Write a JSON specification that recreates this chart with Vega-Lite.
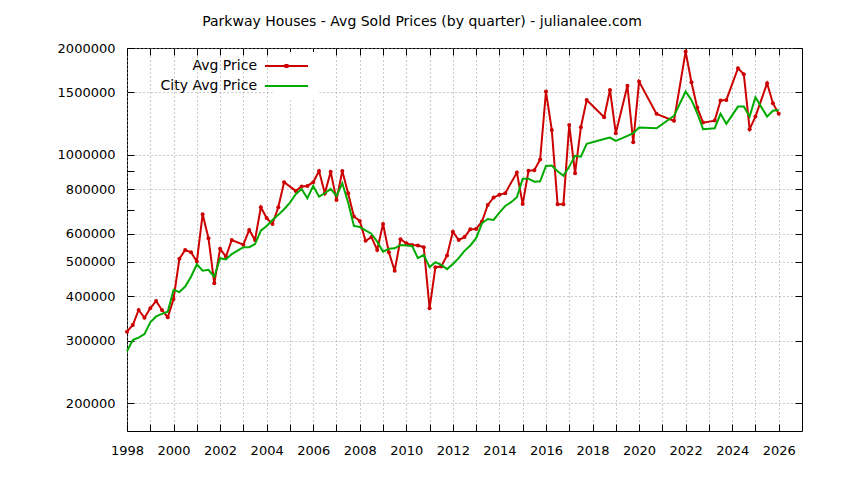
{
  "$schema": "https://vega.github.io/schema/vega-lite/v6.json",
  "width": 675,
  "height": 383,
  "autosize": {"type": "none"},
  "padding": {"left": 127, "top": 48, "right": 42, "bottom": 49},
  "background": "white",
  "title": {
    "text": "Parkway Houses - Avg Sold Prices (by quarter) - julianalee.com",
    "font": "DejaVu Sans", "fontSize": 14, "fontWeight": "normal", "color": "#000000",
    "anchor": "middle", "frame": "group", "dx": -42.5, "offset": 2, "baseline": "alphabetic"
  },
  "config": {
    "view": {"stroke": "#000000", "strokeWidth": 1},
    "font": "DejaVu Sans",
    "legend": {
      "orient": "none", "legendX": 145.5, "legendY": 4, "title": null,
      "symbolType": "M-4.3,0H4.3", "symbolSize": 100, "symbolStrokeWidth": 2,
      "labelAlign": "right", "labelOffset": -36.5, "labelFontSize": 14, "labelFont": "DejaVu Sans",
      "labelColor": "#000000", "rowPadding": 6, "padding": 7, "fillColor": "white", "strokeColor": null
    }
  },
  "data": {"values": [
    {"s":"Avg Price","t":1998.00,"v":318000},{"s":"Avg Price","t":1998.25,"v":332000},{"s":"Avg Price","t":1998.50,"v":366000},{"s":"Avg Price","t":1998.75,"v":348000},
    {"s":"Avg Price","t":1999.00,"v":370000},{"s":"Avg Price","t":1999.25,"v":388000},{"s":"Avg Price","t":1999.50,"v":366000},{"s":"Avg Price","t":1999.75,"v":349000},
    {"s":"Avg Price","t":2000.00,"v":393000},{"s":"Avg Price","t":2000.25,"v":510000},{"s":"Avg Price","t":2000.50,"v":540000},{"s":"Avg Price","t":2000.75,"v":532000},
    {"s":"Avg Price","t":2001.00,"v":501000},{"s":"Avg Price","t":2001.25,"v":681000},{"s":"Avg Price","t":2001.50,"v":583000},{"s":"Avg Price","t":2001.75,"v":435000},
    {"s":"Avg Price","t":2002.00,"v":544000},{"s":"Avg Price","t":2002.25,"v":517000},{"s":"Avg Price","t":2002.50,"v":576000},
    {"s":"Avg Price","t":2003.00,"v":559000},{"s":"Avg Price","t":2003.25,"v":615000},{"s":"Avg Price","t":2003.50,"v":576000},{"s":"Avg Price","t":2003.75,"v":712000},
    {"s":"Avg Price","t":2004.00,"v":664000},{"s":"Avg Price","t":2004.25,"v":639000},{"s":"Avg Price","t":2004.50,"v":712000},{"s":"Avg Price","t":2004.75,"v":838000},
    {"s":"Avg Price","t":2005.25,"v":792000},{"s":"Avg Price","t":2005.50,"v":815000},{"s":"Avg Price","t":2005.75,"v":818000},
    {"s":"Avg Price","t":2006.00,"v":838000},{"s":"Avg Price","t":2006.25,"v":901000},{"s":"Avg Price","t":2006.50,"v":780000},{"s":"Avg Price","t":2006.75,"v":897000},
    {"s":"Avg Price","t":2007.00,"v":747000},{"s":"Avg Price","t":2007.25,"v":901000},{"s":"Avg Price","t":2007.50,"v":780000},{"s":"Avg Price","t":2007.75,"v":671000},
    {"s":"Avg Price","t":2008.00,"v":652000},{"s":"Avg Price","t":2008.25,"v":573000},{"s":"Avg Price","t":2008.50,"v":587000},{"s":"Avg Price","t":2008.75,"v":540000},
    {"s":"Avg Price","t":2009.00,"v":639000},{"s":"Avg Price","t":2009.25,"v":532000},{"s":"Avg Price","t":2009.50,"v":472000},{"s":"Avg Price","t":2009.75,"v":579000},
    {"s":"Avg Price","t":2010.00,"v":564000},{"s":"Avg Price","t":2010.25,"v":558000},{"s":"Avg Price","t":2010.50,"v":556000},{"s":"Avg Price","t":2010.75,"v":550000},
    {"s":"Avg Price","t":2011.00,"v":370000},{"s":"Avg Price","t":2011.25,"v":483000},{"s":"Avg Price","t":2011.50,"v":485000},{"s":"Avg Price","t":2011.75,"v":521000},
    {"s":"Avg Price","t":2012.00,"v":608000},{"s":"Avg Price","t":2012.25,"v":576000},{"s":"Avg Price","t":2012.50,"v":587000},{"s":"Avg Price","t":2012.75,"v":618000},
    {"s":"Avg Price","t":2013.00,"v":619000},{"s":"Avg Price","t":2013.25,"v":649000},{"s":"Avg Price","t":2013.50,"v":723000},{"s":"Avg Price","t":2013.75,"v":759000},
    {"s":"Avg Price","t":2014.00,"v":772000},{"s":"Avg Price","t":2014.25,"v":780000},{"s":"Avg Price","t":2014.75,"v":892000},
    {"s":"Avg Price","t":2015.00,"v":727000},{"s":"Avg Price","t":2015.25,"v":902000},{"s":"Avg Price","t":2015.50,"v":906000},{"s":"Avg Price","t":2015.75,"v":971000},
    {"s":"Avg Price","t":2016.00,"v":1508000},{"s":"Avg Price","t":2016.25,"v":1176000},{"s":"Avg Price","t":2016.50,"v":726000},{"s":"Avg Price","t":2016.75,"v":726000},
    {"s":"Avg Price","t":2017.00,"v":1215000},{"s":"Avg Price","t":2017.25,"v":888000},{"s":"Avg Price","t":2017.50,"v":1197000},{"s":"Avg Price","t":2017.75,"v":1428000},
    {"s":"Avg Price","t":2018.50,"v":1277000},{"s":"Avg Price","t":2018.75,"v":1524000},
    {"s":"Avg Price","t":2019.00,"v":1151000},{"s":"Avg Price","t":2019.50,"v":1565000},{"s":"Avg Price","t":2019.75,"v":1086000},
    {"s":"Avg Price","t":2020.00,"v":1609000},{"s":"Avg Price","t":2020.75,"v":1305000},
    {"s":"Avg Price","t":2021.50,"v":1247000},
    {"s":"Avg Price","t":2022.00,"v":1954000},{"s":"Avg Price","t":2022.25,"v":1602000},{"s":"Avg Price","t":2022.50,"v":1359000},{"s":"Avg Price","t":2022.75,"v":1233000},
    {"s":"Avg Price","t":2023.25,"v":1249000},{"s":"Avg Price","t":2023.50,"v":1422000},{"s":"Avg Price","t":2023.75,"v":1428000},
    {"s":"Avg Price","t":2024.25,"v":1754000},{"s":"Avg Price","t":2024.50,"v":1687000},{"s":"Avg Price","t":2024.75,"v":1182000},
    {"s":"Avg Price","t":2025.00,"v":1282000},{"s":"Avg Price","t":2025.50,"v":1591000},{"s":"Avg Price","t":2025.75,"v":1398000},
    {"s":"Avg Price","t":2026.00,"v":1305000},

    {"s":"City Avg Price","t":1998.00,"v":280000},{"s":"City Avg Price","t":1998.25,"v":301000},{"s":"City Avg Price","t":1998.50,"v":306000},{"s":"City Avg Price","t":1998.75,"v":313000},
    {"s":"City Avg Price","t":1999.00,"v":338000},{"s":"City Avg Price","t":1999.25,"v":351000},{"s":"City Avg Price","t":1999.50,"v":357000},{"s":"City Avg Price","t":1999.75,"v":362000},
    {"s":"City Avg Price","t":2000.00,"v":417000},{"s":"City Avg Price","t":2000.25,"v":411000},{"s":"City Avg Price","t":2000.50,"v":426000},{"s":"City Avg Price","t":2000.75,"v":454000},
    {"s":"City Avg Price","t":2001.00,"v":492000},{"s":"City Avg Price","t":2001.25,"v":472000},{"s":"City Avg Price","t":2001.50,"v":475000},{"s":"City Avg Price","t":2001.75,"v":454000},
    {"s":"City Avg Price","t":2002.00,"v":512000},{"s":"City Avg Price","t":2002.25,"v":508000},{"s":"City Avg Price","t":2002.50,"v":526000},{"s":"City Avg Price","t":2002.75,"v":538000},
    {"s":"City Avg Price","t":2003.00,"v":550000},{"s":"City Avg Price","t":2003.25,"v":550000},{"s":"City Avg Price","t":2003.50,"v":561000},{"s":"City Avg Price","t":2003.75,"v":612000},
    {"s":"City Avg Price","t":2004.00,"v":631000},{"s":"City Avg Price","t":2004.25,"v":656000},{"s":"City Avg Price","t":2004.50,"v":678000},{"s":"City Avg Price","t":2004.75,"v":703000},
    {"s":"City Avg Price","t":2005.00,"v":734000},{"s":"City Avg Price","t":2005.25,"v":775000},{"s":"City Avg Price","t":2005.50,"v":802000},{"s":"City Avg Price","t":2005.75,"v":755000},
    {"s":"City Avg Price","t":2006.00,"v":818000},{"s":"City Avg Price","t":2006.25,"v":763000},{"s":"City Avg Price","t":2006.50,"v":780000},{"s":"City Avg Price","t":2006.75,"v":802000},
    {"s":"City Avg Price","t":2007.00,"v":767000},{"s":"City Avg Price","t":2007.25,"v":832000},{"s":"City Avg Price","t":2007.50,"v":735000},{"s":"City Avg Price","t":2007.75,"v":631000},
    {"s":"City Avg Price","t":2008.00,"v":627000},{"s":"City Avg Price","t":2008.25,"v":613000},{"s":"City Avg Price","t":2008.50,"v":600000},{"s":"City Avg Price","t":2008.75,"v":570000},
    {"s":"City Avg Price","t":2009.00,"v":534000},{"s":"City Avg Price","t":2009.25,"v":544000},{"s":"City Avg Price","t":2009.50,"v":546000},{"s":"City Avg Price","t":2009.75,"v":558000},
    {"s":"City Avg Price","t":2010.00,"v":556000},{"s":"City Avg Price","t":2010.25,"v":554000},{"s":"City Avg Price","t":2010.50,"v":512000},{"s":"City Avg Price","t":2010.75,"v":523000},
    {"s":"City Avg Price","t":2011.00,"v":483000},{"s":"City Avg Price","t":2011.25,"v":499000},{"s":"City Avg Price","t":2011.50,"v":490000},{"s":"City Avg Price","t":2011.75,"v":477000},
    {"s":"City Avg Price","t":2012.00,"v":493000},{"s":"City Avg Price","t":2012.25,"v":512000},{"s":"City Avg Price","t":2012.50,"v":537000},{"s":"City Avg Price","t":2012.75,"v":556000},
    {"s":"City Avg Price","t":2013.00,"v":583000},{"s":"City Avg Price","t":2013.25,"v":642000},{"s":"City Avg Price","t":2013.50,"v":660000},{"s":"City Avg Price","t":2013.75,"v":656000},
    {"s":"City Avg Price","t":2014.00,"v":688000},{"s":"City Avg Price","t":2014.25,"v":718000},{"s":"City Avg Price","t":2014.50,"v":736000},{"s":"City Avg Price","t":2014.75,"v":760000},
    {"s":"City Avg Price","t":2015.00,"v":857000},{"s":"City Avg Price","t":2015.25,"v":857000},{"s":"City Avg Price","t":2015.50,"v":841000},{"s":"City Avg Price","t":2015.75,"v":843000},
    {"s":"City Avg Price","t":2016.00,"v":931000},{"s":"City Avg Price","t":2016.25,"v":933000},{"s":"City Avg Price","t":2016.50,"v":900000},{"s":"City Avg Price","t":2016.75,"v":873000},
    {"s":"City Avg Price","t":2017.00,"v":927000},{"s":"City Avg Price","t":2017.25,"v":994000},{"s":"City Avg Price","t":2017.50,"v":989000},{"s":"City Avg Price","t":2017.75,"v":1074000},
    {"s":"City Avg Price","t":2018.50,"v":1109000},{"s":"City Avg Price","t":2018.75,"v":1119000},
    {"s":"City Avg Price","t":2019.00,"v":1095000},{"s":"City Avg Price","t":2019.50,"v":1131000},{"s":"City Avg Price","t":2019.75,"v":1151000},
    {"s":"City Avg Price","t":2020.00,"v":1194000},{"s":"City Avg Price","t":2020.75,"v":1189000},
    {"s":"City Avg Price","t":2021.50,"v":1288000},
    {"s":"City Avg Price","t":2022.00,"v":1508000},{"s":"City Avg Price","t":2022.25,"v":1428000},{"s":"City Avg Price","t":2022.50,"v":1310000},{"s":"City Avg Price","t":2022.75,"v":1182000},
    {"s":"City Avg Price","t":2023.25,"v":1189000},{"s":"City Avg Price","t":2023.50,"v":1305000},{"s":"City Avg Price","t":2023.75,"v":1223000},
    {"s":"City Avg Price","t":2024.25,"v":1368000},{"s":"City Avg Price","t":2024.50,"v":1368000},{"s":"City Avg Price","t":2024.75,"v":1282000},
    {"s":"City Avg Price","t":2025.00,"v":1453000},{"s":"City Avg Price","t":2025.50,"v":1282000},{"s":"City Avg Price","t":2025.75,"v":1332000},
    {"s":"City Avg Price","t":2026.00,"v":1339000}
  ]},
  "layer": [
    {
      "transform": [{"filter": "datum.s === 'Avg Price'"}],
      "mark": {"type": "line", "strokeWidth": 2},
      "encoding": {
        "x": {"field": "t", "type": "quantitative",
          "scale": {"domain": [1998, 2027], "nice": false, "zero": false},
          "axis": {"orient": "bottom", "title": null, "values": [1998,1999,2000,2001,2002,2003,2004,2005,2006,2007,2008,2009,2010,2011,2012,2013,2014,2015,2016,2017,2018,2019,2020,2021,2022,2023,2024,2025,2026],
            "format": "d", "labelExpr": "datum.value % 2 === 0 ? datum.label : ''",
            "grid": true, "gridColor": "#999999", "gridDash": [1, 3], "gridWidth": 1,
            "domain": false, "ticks": true, "tickSize": -7, "tickColor": "#000000", "tickWidth": 1,
            "labelFont": "DejaVu Sans", "labelFontSize": 13, "labelColor": "#000000", "labelPadding": 20, "labelFlush": false, "labelOverlap": false}},
        "y": {"field": "v", "type": "quantitative",
          "scale": {"type": "log", "domain": [167000, 2000000], "nice": false, "zero": false},
          "axis": {"orient": "left", "title": null, "values": [200000,300000,400000,500000,600000,700000,800000,900000,1000000,1500000,2000000],
            "format": "d", "labelExpr": "(datum.value === 700000 || datum.value === 900000) ? '' : datum.label",
            "grid": true, "gridColor": "#999999", "gridDash": [1, 3], "gridWidth": 1,
            "gridOpacity": {"condition": {"test": "datum.value === 700000 || datum.value === 900000", "value": 0}, "value": 1},
            "domain": false, "ticks": true, "tickSize": -7, "tickColor": "#000000", "tickWidth": 1,
            "labelFont": "DejaVu Sans", "labelFontSize": 13, "labelColor": "#000000", "labelPadding": 19, "labelFlush": false, "labelOverlap": false}},
        "color": {"field": "s", "type": "nominal",
          "scale": {"domain": ["Avg Price", "City Avg Price"], "range": ["#cc0000", "#00aa00"]},
          "legend": {"encode": {"symbols": {"update": {"shape": {"signal": "datum.value === 'Avg Price' ? 'M-4.3,0H4.3M-0.2,-0.2H0.2V0.2H-0.2Z' : 'M-4.3,0H4.3'"}}}}}}
      }
    },
    {
      "transform": [{"filter": "datum.s === 'Avg Price'"}],
      "mark": {"type": "point", "filled": true, "shape": "circle", "size": 16, "opacity": 1},
      "encoding": {
        "x": {"field": "t", "type": "quantitative", "axis": null},
        "y": {"field": "v", "type": "quantitative", "axis": null},
        "color": {"field": "s", "type": "nominal"}
      }
    },
    {
      "transform": [{"filter": "datum.s === 'City Avg Price'"}],
      "mark": {"type": "line", "strokeWidth": 2},
      "encoding": {
        "x": {"field": "t", "type": "quantitative",
          "axis": {"orient": "top", "title": null, "values": [1998,1999,2000,2001,2002,2003,2004,2005,2006,2007,2008,2009,2010,2011,2012,2013,2014,2015,2016,2017,2018,2019,2020,2021,2022,2023,2024,2025,2026],
            "labels": false, "grid": false, "domain": false, "tickSize": -7, "tickColor": "#000000", "tickWidth": 1}},
        "y": {"field": "v", "type": "quantitative",
          "axis": {"orient": "right", "title": null, "values": [200000,300000,400000,500000,600000,700000,800000,900000,1000000,1500000,2000000],
            "labels": false, "grid": false, "domain": false, "tickSize": -7, "tickColor": "#000000", "tickWidth": 1}},
        "color": {"field": "s", "type": "nominal"}
      }
    }
  ],
  "resolve": {"axis": {"x": "independent", "y": "independent"}}
}
